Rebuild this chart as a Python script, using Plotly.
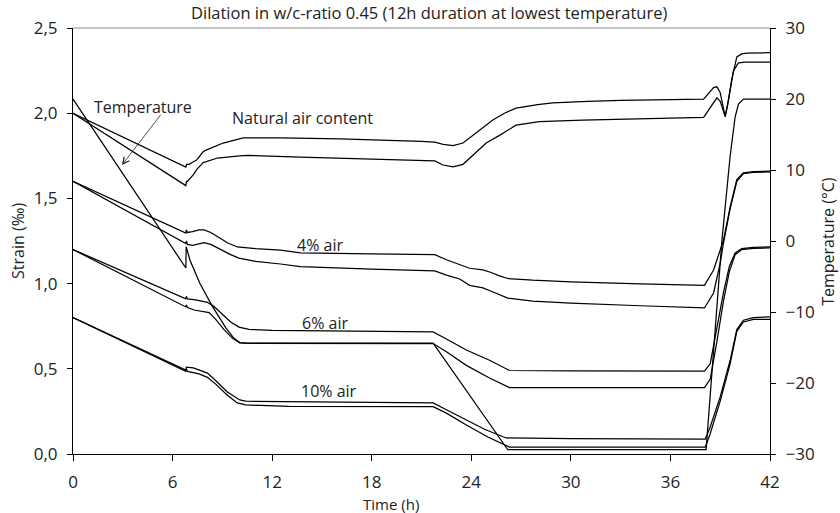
import plotly.graph_objects as go

# ---- measured series: time (h) and strain (per mille) ----
nat_hi_t = [0, 6.8, 6.84, 7.0, 7.2, 7.45, 7.85, 8.05, 9.05, 10.25, 12.5, 16.1, 21.0, 21.8,
            22.3, 22.9, 23.5, 24.1, 24.9, 25.3, 26.0, 26.7, 28.0, 28.9, 31.0, 33.0, 38.0,
            38.3, 38.6, 38.8, 39.0, 39.15, 39.3, 39.45, 39.7, 40.0, 40.3, 40.6, 42]
nat_hi_v = [2.0, 1.684, 1.70, 1.70, 1.712, 1.725, 1.775, 1.785, 1.825, 1.855, 1.855, 1.85, 1.835, 1.83,
            1.817, 1.81, 1.825, 1.87, 1.93, 1.96, 2.0, 2.03, 2.05, 2.06, 2.07, 2.075, 2.083,
            2.12, 2.15, 2.155, 2.12, 2.05, 1.98, 2.05, 2.2, 2.33, 2.348, 2.353, 2.355]

nat_lo_t = [0, 6.8, 6.84, 6.9, 7.23, 7.5, 7.85, 8.7, 10.05, 10.5, 13.7, 18.0, 21.8, 22.3,
            22.9, 23.5, 24.1, 24.9, 25.7, 26.7, 28.1, 30.7, 38.0, 38.4, 38.8, 39.0, 39.2,
            39.3, 39.5, 39.8, 40.1, 40.5, 42]
nat_lo_v = [2.0, 1.575, 1.60, 1.60, 1.637, 1.675, 1.71, 1.737, 1.75, 1.752, 1.742, 1.73, 1.72, 1.696,
            1.685, 1.70, 1.755, 1.825, 1.87, 1.93, 1.95, 1.96, 1.975, 2.03, 2.09, 2.07, 2.0,
            1.98, 2.08, 2.25, 2.295, 2.30, 2.30]

a4_hi_t = [0, 6.8, 6.83, 6.9, 7.2, 7.6, 7.9, 8.3, 8.8, 9.3, 9.9, 11.0, 12.5, 13.7, 18.0, 21.8,
           22.5, 23.3, 23.9, 24.7, 25.2, 25.7, 26.2, 27.7, 30.0, 34.2, 38.05, 38.6, 39.0,
           39.2, 39.6, 40.0, 40.4, 41.0, 42]
a4_hi_v = [1.6, 1.297, 1.315, 1.30, 1.305, 1.315, 1.315, 1.30, 1.27, 1.24, 1.215, 1.205, 1.197, 1.18, 1.175, 1.17,
           1.14, 1.11, 1.09, 1.08, 1.065, 1.045, 1.03, 1.02, 1.01, 0.998, 0.99, 1.08, 1.2,
           1.256, 1.45, 1.61, 1.65, 1.657, 1.66]

a4_lo_t = [0, 6.8, 6.83, 6.9, 7.2, 7.6, 7.9, 8.3, 8.9, 9.5, 10.0, 11.0, 12.5, 13.7, 18.0, 21.8,
           22.5, 23.3, 23.9, 24.7, 25.2, 25.7, 26.2, 27.7, 30.0, 34.2, 38.05, 38.6, 39.0,
           39.2, 39.6, 40.0, 40.4, 41.0, 42]
a4_lo_v = [1.6, 1.235, 1.25, 1.23, 1.225, 1.235, 1.24, 1.23, 1.20, 1.17, 1.15, 1.13, 1.115, 1.10, 1.085, 1.075,
           1.05, 1.027, 0.99, 0.975, 0.955, 0.935, 0.915, 0.897, 0.885, 0.87, 0.857, 0.945, 1.12,
           1.24, 1.44, 1.60, 1.645, 1.652, 1.655]

a6_hi_t = [0, 6.8, 6.83, 6.9, 7.4, 8.1, 8.5, 9.0, 9.5, 10.0, 10.6, 12.0, 16.0, 21.7, 22.5,
           23.7, 25.1, 26.3, 30.0, 38.05, 38.4, 38.8, 39.2, 39.55, 39.9, 40.3, 41.0, 42]
a6_hi_v = [1.2, 0.91, 0.925, 0.91, 0.905, 0.89, 0.865, 0.82, 0.775, 0.745, 0.732, 0.725, 0.72, 0.716, 0.675,
           0.61, 0.55, 0.49, 0.488, 0.487, 0.53, 0.75, 0.95, 1.10, 1.18, 1.205, 1.213, 1.215]

a6_lo_t = [0, 6.8, 6.83, 6.9, 7.3, 8.2, 8.6, 9.1, 9.6, 10.05, 10.5, 21.7, 22.5, 23.7, 25.1,
           26.3, 38.05, 38.4, 38.8, 39.2, 39.55, 39.9, 40.3, 41.0, 42]
a6_lo_v = [1.2, 0.863, 0.875, 0.86, 0.845, 0.83, 0.79, 0.73, 0.68, 0.652, 0.65, 0.648, 0.60, 0.52, 0.446,
           0.39, 0.39, 0.44, 0.66, 0.90, 1.07, 1.17, 1.20, 1.207, 1.21]

a10_hi_t = [0, 6.8, 6.83, 7.25, 8.1, 8.5, 9.3, 10.05, 10.4, 17.5, 21.7, 22.5, 23.7, 24.8,
            26.1, 30.0, 38.1, 38.4, 39.0, 39.6, 40.0, 40.4, 41.0, 42]
a10_hi_v = [0.8, 0.493, 0.51, 0.505, 0.475, 0.44, 0.364, 0.317, 0.31, 0.305, 0.30, 0.26, 0.20, 0.145,
            0.094, 0.09, 0.088, 0.16, 0.335, 0.55, 0.73, 0.785, 0.80, 0.805]

a10_lo_t = [0, 6.8, 6.83, 6.9, 7.6, 8.1, 8.6, 9.3, 9.9, 10.4, 13.0, 21.7, 22.5, 23.7, 25.0,
            26.3, 38.1, 38.4, 39.0, 39.6, 40.0, 40.4, 41.0, 42]
a10_lo_v = [0.8, 0.485, 0.50, 0.485, 0.47, 0.45, 0.41, 0.345, 0.30, 0.288, 0.28, 0.278, 0.24, 0.17, 0.10,
            0.04, 0.04, 0.12, 0.31, 0.53, 0.72, 0.775, 0.79, 0.79]

# ---- temperature (deg C) on the secondary axis ----
temp_t = [0, 6.8, 6.82, 7.05, 7.65, 8.4, 9.2, 9.7, 10.05, 10.4, 21.7, 26.2, 38.15, 38.6,
          39.1, 39.6, 39.9, 40.1, 40.4, 42]
temp_v = [20, -3.8, -0.8, -2.7, -6.0, -9.2, -12.2, -13.7, -14.3, -14.4, -14.4, -29.4, -29.4, -15,
          0, 12, 17.5, 19.3, 20, 20]

x_ticks = [0, 6, 12, 18, 24, 30, 36, 42]
y_ticks = [0, 0.5, 1.0, 1.5, 2.0, 2.5]
y_labels = ["0,0", "0,5", "1,0", "1,5", "2,0", "2,5"]
t_ticks = [-30, -20, -10, 0, 10, 20, 30]

FONT = "Open Sans"
INK = "#222"
LINE = dict(color="black", width=1.25)

fig = go.Figure()
strain_series = [
    ("Natural air content", nat_hi_t, nat_hi_v), ("Natural air content", nat_lo_t, nat_lo_v),
    ("4% air", a4_hi_t, a4_hi_v), ("4% air", a4_lo_t, a4_lo_v),
    ("6% air", a6_hi_t, a6_hi_v), ("6% air", a6_lo_t, a6_lo_v),
    ("10% air", a10_hi_t, a10_hi_v), ("10% air", a10_lo_t, a10_lo_v),
]
for name, t, v in strain_series:
    fig.add_trace(go.Scatter(x=t, y=v, mode="lines", line=LINE, name=name,
                             showlegend=False, hoverinfo="skip"))

fig.add_trace(go.Scatter(x=temp_t, y=temp_v, mode="lines", line=LINE, name="Temperature",
                         yaxis="y2", showlegend=False, hoverinfo="skip"))

axis_font = dict(family=FONT, size=17, color=INK)

fig.update_layout(
    width=840, height=513,
    margin=dict(l=73, r=70, t=28, b=59),
    paper_bgcolor="white", plot_bgcolor="white",
    showlegend=False,
    font=dict(family=FONT, size=16, color=INK),
    title=dict(text="Dilation in w/c-ratio 0.45 (12h duration at lowest temperature)",
               x=0.511, xref="paper", y=0.974, yref="container", yanchor="middle",
               xanchor="center", font=dict(family=FONT, size=16.5, color=INK)),
    xaxis=dict(range=[0, 42], tickvals=x_ticks, ticks="outside", ticklen=6,
               tickcolor="black", showline=True, linecolor="black", linewidth=1.2,
               showgrid=False, zeroline=False, tickfont=axis_font, ticklabelstandoff=6),
    yaxis=dict(range=[0, 2.5], tickvals=y_ticks, ticktext=y_labels, ticks="outside",
               ticklen=5, tickcolor="black", showline=True, linecolor="black",
               linewidth=1.2, showgrid=False, zeroline=False, tickfont=axis_font,
               ticklabelstandoff=6),
    yaxis2=dict(range=[-30, 30], tickvals=t_ticks, ticks="outside", ticklen=5,
                tickcolor="black", overlaying="y", side="right", anchor="x",
                showline=True, linecolor="black", linewidth=1.2, showgrid=False,
                zeroline=False, tickfont=axis_font, ticklabelstandoff=6),
    yaxis3=dict(range=[-30, 30], tickvals=t_ticks, ticks="inside", ticklen=4,
                tickcolor="black", overlaying="y", side="right", anchor="x",
                showticklabels=False, showline=False, showgrid=False, zeroline=False),
)

# thin frame line along the top of the plotting area
fig.add_shape(type="line", xref="x domain", yref="y domain", x0=0, x1=1, y0=1, y1=1,
              line=dict(color="#8a8a8a", width=1))

# series labels
labels = [("Natural air content", 13.8, 1.97), ("4% air", 14.9, 1.227),
          ("6% air", 15.2, 0.77), ("10% air", 15.4, 0.37), ("Temperature", 4.2, 2.036)]
for text, lx, ly in labels:
    fig.add_annotation(text=text, x=lx, y=ly, xref="x", yref="y", showarrow=False,
                       font=dict(family=FONT, size=16, color=INK))

# arrow from the "Temperature" label to its curve
fig.add_annotation(text="", x=2.95, y=1.696, ax=5.36, ay=2.0, xref="x", yref="y",
                   axref="x", ayref="y", showarrow=True, arrowhead=5, arrowsize=1.6,
                   arrowwidth=0.8, arrowcolor=INK)

# axis titles
fig.add_annotation(text="Strain (‰)", xref="paper", yref="paper", x=-0.079, y=0.5,
                   xanchor="center", yanchor="middle", textangle=-90, showarrow=False,
                   font=dict(family=FONT, size=16, color=INK))
fig.add_annotation(text="Temperature (°C)", xref="paper", yref="paper", x=1.083, y=0.5,
                   xanchor="center", yanchor="middle", textangle=-90, showarrow=False,
                   font=dict(family=FONT, size=16, color=INK))
fig.add_annotation(text="Time (h)", xref="x", yref="paper", x=19.15, y=-0.117,
                   xanchor="center", yanchor="middle", showarrow=False,
                   font=dict(family=FONT, size=15, color=INK))

fig.write_html("out.html")
